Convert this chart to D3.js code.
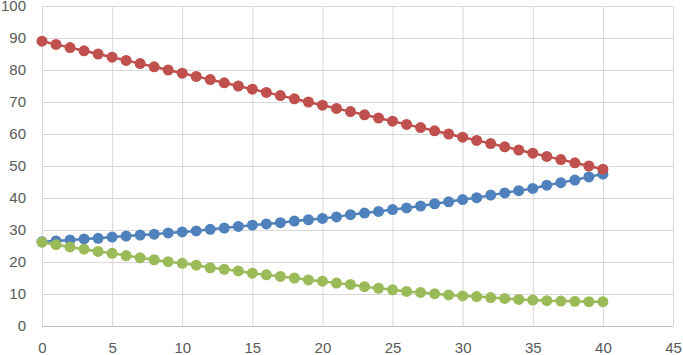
<!DOCTYPE html>
<html>
<head>
<meta charset="utf-8">
<script src="https://cdn.jsdelivr.net/npm/d3@7"></script>
<style>
  body { margin: 0; background: #fff; }
  svg { display: block; }
</style>
</head>
<body>
<script>
const width = 683;
const height = 355;

// x values 0..40
const xs = [0, 1, 2, 3, 4, 5, 6, 7, 8, 9, 10, 11, 12, 13, 14, 15, 16, 17, 18, 19, 20,
    21, 22, 23, 24, 25, 26, 27, 28, 29, 30, 31, 32, 33, 34, 35, 36, 37, 38, 39, 40];

const blueValues = [26.3, 26.6, 26.9, 27.2, 27.4, 27.8, 28.1, 28.4, 28.7, 29.1, 29.4,
    29.7, 30.2, 30.6, 31.1, 31.5, 31.9, 32.3, 32.8, 33.2, 33.6,
    34.1, 34.8, 35.3, 35.8, 36.4, 36.9, 37.5, 38.2, 38.8, 39.5,
    40.1, 40.9, 41.6, 42.3, 43.0, 44.0, 44.8, 45.6, 46.6, 47.5];

const redValues = [89, 88, 87, 86, 85, 84, 83, 82, 81, 80, 79,
    78, 77, 76, 75, 74, 73, 72, 71, 70, 69,
    68, 67, 66, 65, 64, 63, 62, 61, 60, 59,
    58, 57, 56, 55, 54, 53, 52, 51, 50, 49];

const greenValues = [26.2, 25.4, 24.7, 24.0, 23.3, 22.7, 22.0, 21.3, 20.7, 20.1, 19.6,
    19.0, 18.2, 17.7, 17.2, 16.5, 16.0, 15.5, 15.0, 14.4, 14.0,
    13.4, 13.0, 12.3, 11.8, 11.3, 10.8, 10.5, 10.1, 9.7, 9.4,
    9.2, 8.9, 8.6, 8.3, 8.1, 7.9, 7.8, 7.7, 7.6, 7.6];

const xTicks = [0, 5, 10, 15, 20, 25, 30, 35, 40, 45];
const yTicks = [0, 10, 20, 30, 40, 50, 60, 70, 80, 90, 100];

const series = [
    { name: "blue", color: "#4F81BD", values: blueValues },
    { name: "red", color: "#C0504D", values: redValues },
    { name: "green", color: "#9BBB59", values: greenValues }
];

const x = d3.scaleLinear().domain([0, 45]).range([42, 673]);
const y = d3.scaleLinear().domain([0, 100]).range([326, 6]);

const svg = d3.select("body").append("svg")
    .attr("width", width)
    .attr("height", height);

// gridlines
svg.append("g")
    .selectAll("line")
    .data(yTicks)
    .enter().append("line")
    .attr("x1", x(0)).attr("x2", x(45))
    .attr("y1", d => y(d) + 0.5).attr("y2", d => y(d) + 0.5)
    .attr("stroke", d => d === 0 ? "#BFBFBF" : "#D9D9D9")
    .attr("stroke-width", 1);

svg.append("g")
    .selectAll("line")
    .data(xTicks)
    .enter().append("line")
    .attr("x1", d => x(d) + 0.5).attr("x2", d => x(d) + 0.5)
    .attr("y1", y(0)).attr("y2", y(100))
    .attr("stroke", "#D9D9D9")
    .attr("stroke-width", 1);

// axes (labels only)
const xAxis = svg.append("g")
    .attr("transform", `translate(0,${y(0)})`)
    .call(d3.axisBottom(x).tickValues(xTicks).tickSize(0).tickPadding(16));
const yAxis = svg.append("g")
    .attr("transform", `translate(${x(0)},0)`)
    .call(d3.axisLeft(y).tickValues(yTicks).tickSize(0).tickPadding(16));

[xAxis, yAxis].forEach(g => {
    g.select(".domain").remove();
    g.selectAll("text")
        .attr("fill", "#595959")
        .style("font-family", "'Liberation Sans', Arial, sans-serif")
        .style("font-size", "15px");
});

// series lines + markers
const line = d3.line()
    .x((d, i) => x(xs[i]))
    .y(d => y(d));

series.forEach(s => {
    const g = svg.append("g").attr("class", s.name);
    g.append("path")
        .datum(s.values)
        .attr("d", line)
        .attr("fill", "none")
        .attr("stroke", s.color)
        .attr("stroke-width", 2.5);
    g.selectAll("circle")
        .data(s.values)
        .enter().append("circle")
        .attr("cx", (d, i) => x(xs[i]))
        .attr("cy", d => y(d))
        .attr("r", 5.5)
        .attr("fill", s.color);
});
</script>
</body>
</html>
